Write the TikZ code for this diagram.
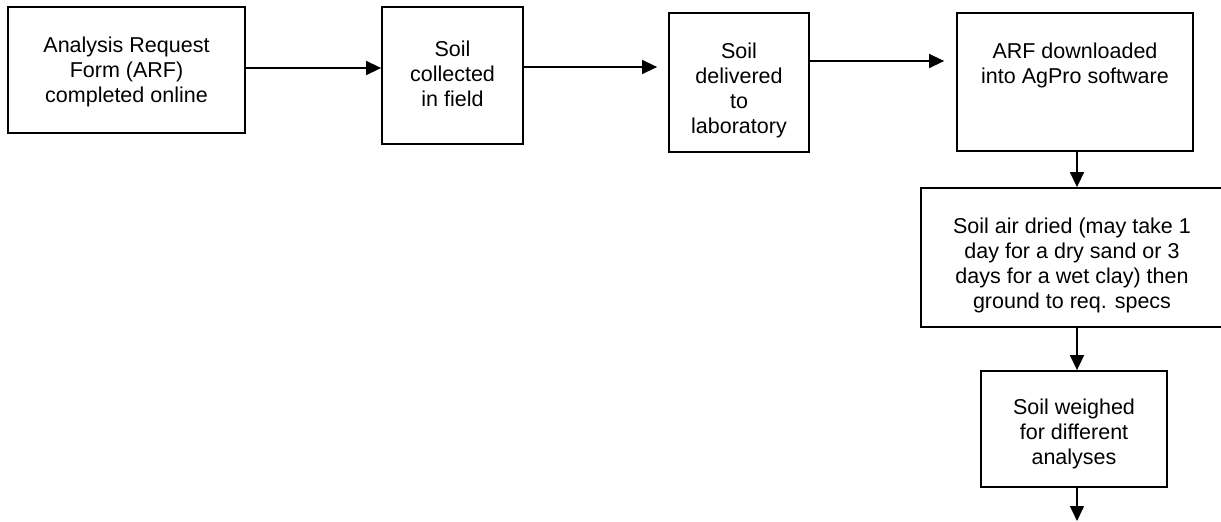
\documentclass[tikz,border=0pt]{standalone}
\usepackage{fontspec}
\setmainfont{Liberation Sans}
\usetikzlibrary{arrows.meta}
\tikzset{
  box/.style={draw=black, line width=1.8pt, fill=none, inner sep=0pt},
  txt/.style={align=center, inner sep=0pt, font=\fontsize{21.5pt}{25pt}\selectfont},
  arr/.style={line width=1.5pt, -{Triangle[length=15pt,width=14pt]}}
}
\begin{document}
\begin{tikzpicture}[x=1pt,y=-1pt]
\clip (0,0) rectangle (1221,522);
\fill[white] (0,0) rectangle (1221,522);
% boxes
\node[box, minimum width=237pt, minimum height=126pt] (b1) at (126.5,70) {};
\node[box, minimum width=141pt, minimum height=137pt] (b2) at (452.5,75.5) {};
\node[box, minimum width=140pt, minimum height=139pt] (b3) at (739,82.5) {};
\node[box, minimum width=236pt, minimum height=138pt] (b4) at (1075,82) {};
\node[box, minimum width=312pt, minimum height=139pt] (b5) at (1077,257.5) {};
\node[box, minimum width=186pt, minimum height=116pt] (b6) at (1074,429) {};
% texts
\node[txt] (t1) at (126.5,72) {Analysis Request\\Form (ARF)\\completed online};
\node[txt] (t2) at (452.5,73.5) {Soil\\collected\\in field};
\node[txt] (t3) at (739,90.5) {Soil\\delivered\\to\\laboratory};
\node[txt] (t4) at (1075,65.5) {ARF downloaded\\into AgPro software};
\node[txt] (t5) at (1072,265) {Soil air dried (may take 1\\day for a dry sand or 3\\days for a wet clay) then\\ground to req. specs};
\node[txt] (t6) at (1074,434) {Soil weighed\\for different\\analyses};
% connectors
\coordinate (end) at (1077,521);
\draw[arr] (b1.east |- 0,68) -- (b2.west |- 0,68);
\draw[arr, shorten >=11pt] (b2.east |- 0,67) -- (b3.west |- 0,67);
\draw[arr, shorten >=12pt] (b3.east |- 0,61) -- (b4.west |- 0,61);
\draw[arr] (b4.south -| end) -- (b5.north -| end);
\draw[arr] (b5.south -| end) -- (b6.north -| end);
\draw[arr] (b6.south -| end) -- (end);
\end{tikzpicture}
\end{document}
